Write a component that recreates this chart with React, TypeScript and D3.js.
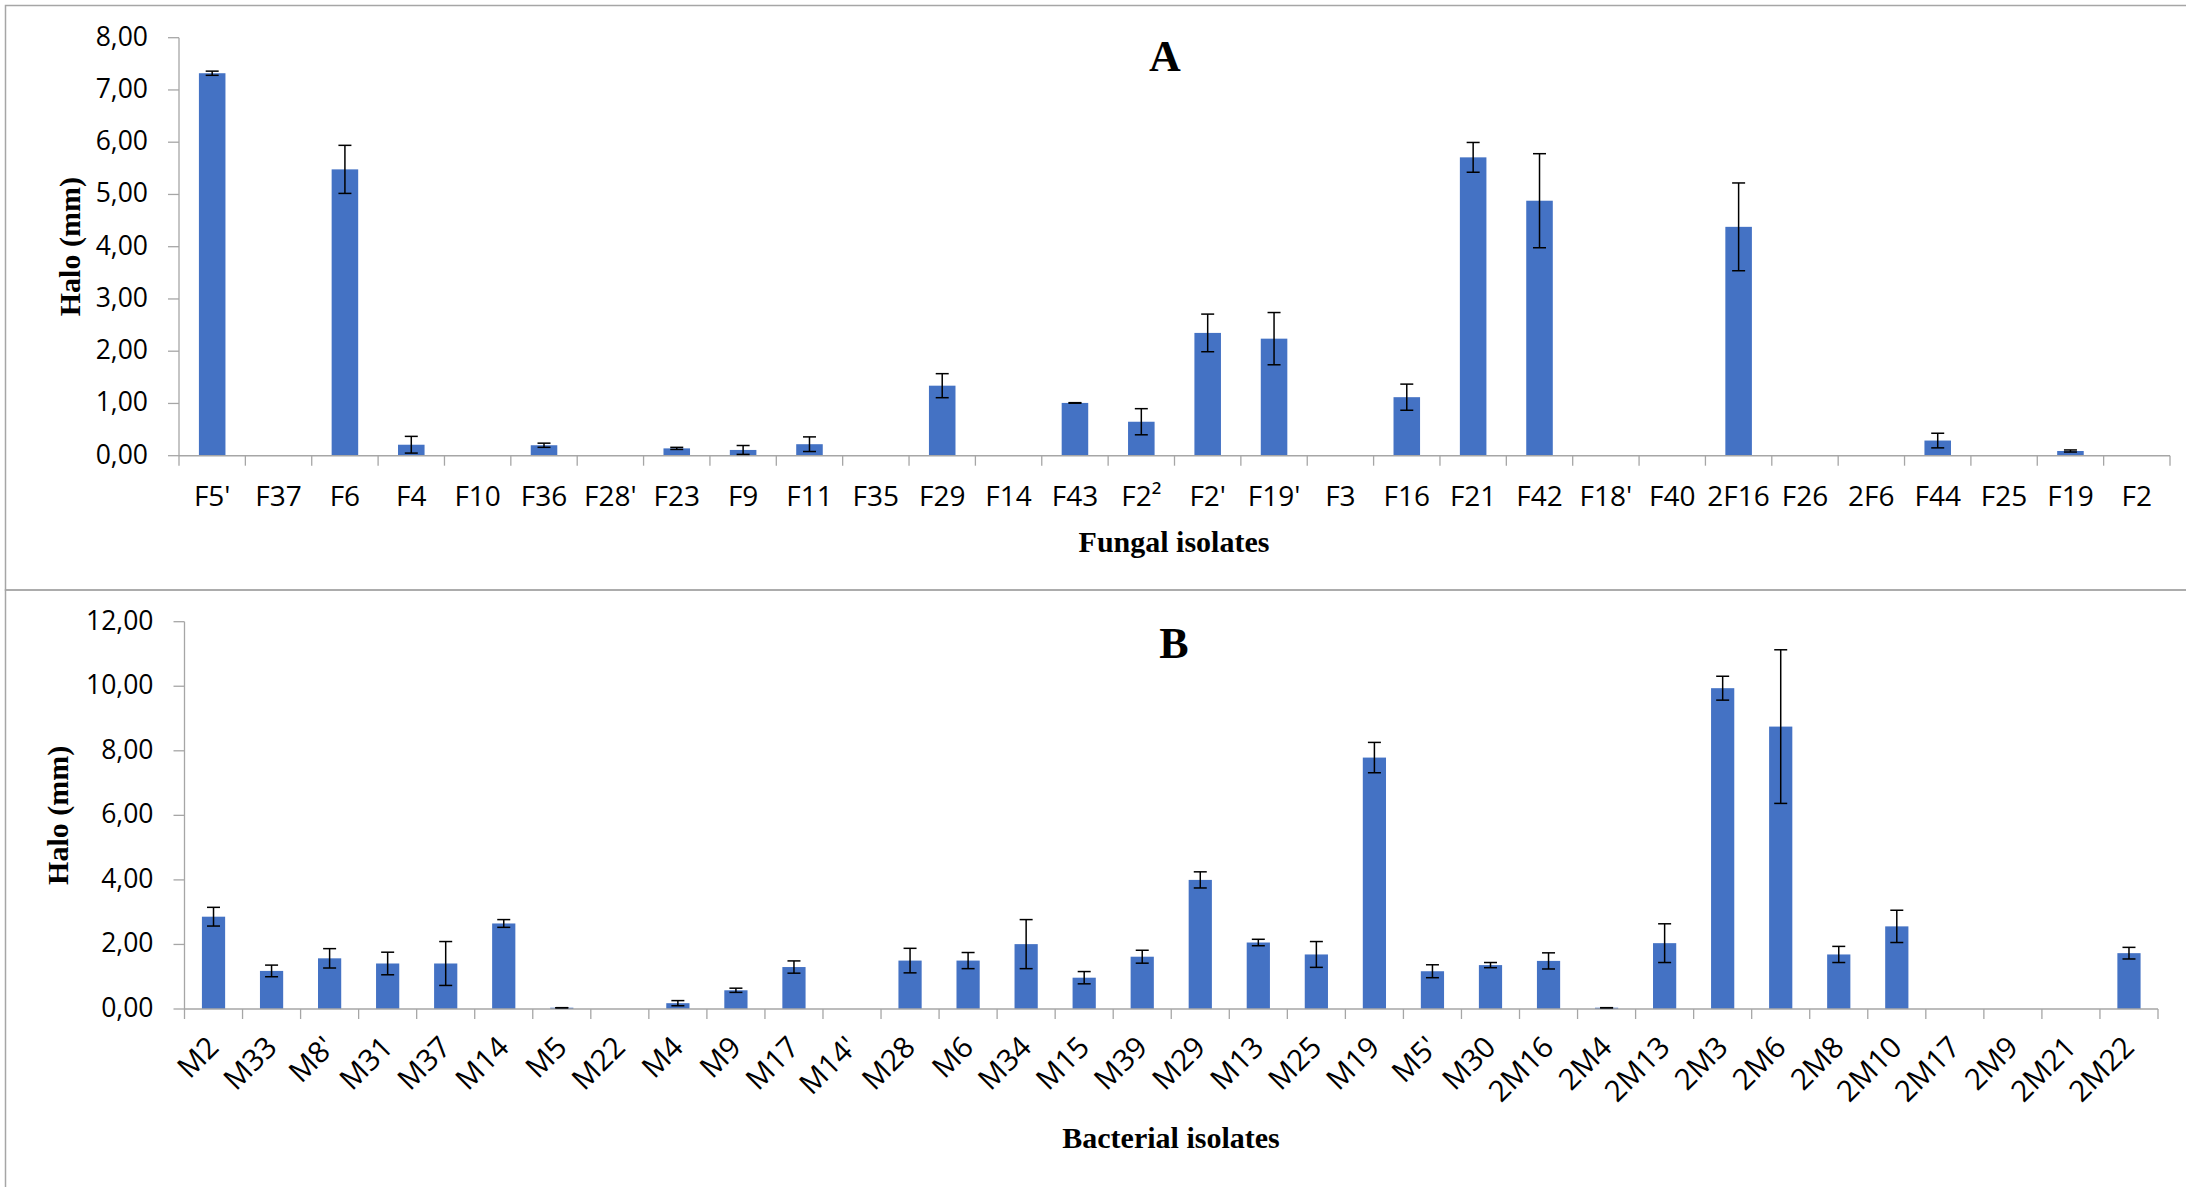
import React from 'react';
import * as d3 from 'd3';

// Panel A - fungal isolates
const fungalIsolates = ["F5'", 'F37', 'F6', 'F4', 'F10', 'F36', "F28'", 'F23', 'F9', 'F11', 'F35', 'F29', 'F14', 'F43', 'F2²', "F2'", "F19'", 'F3', 'F16', 'F21', 'F42', "F18'", 'F40', '2F16', 'F26', '2F6', 'F44', 'F25', 'F19', 'F2'];
const fungalHalo = [7.32, 0, 5.48, 0.21, 0, 0.2, 0, 0.14, 0.11, 0.22, 0, 1.34, 0, 1.01, 0.65, 2.35, 2.24, 0, 1.12, 5.71, 4.88, 0, 0, 4.38, 0, 0, 0.29, 0, 0.09, 0];
const fungalErr = [0.04, 0, 0.46, 0.16, 0, 0.04, 0, 0.02, 0.085, 0.14, 0, 0.23, 0, 0.005, 0.25, 0.36, 0.5, 0, 0.25, 0.285, 0.9, 0, 0, 0.84, 0, 0, 0.14, 0, 0.02, 0];
const fungalTicks = [0, 1, 2, 3, 4, 5, 6, 7, 8];

// Panel B - bacterial isolates
const bacterialIsolates = ['M2', 'M33', "M8'", 'M31', 'M37', 'M14', 'M5', 'M22', 'M4', 'M9', 'M17', "M14'", 'M28', 'M6', 'M34', 'M15', 'M39', 'M29', 'M13', 'M25', 'M19', "M5'", 'M30', '2M16', '2M4', '2M13', '2M3', '2M6', '2M8', '2M10', '2M17', '2M9', '2M21', '2M22'];
const bacterialHalo = [2.86, 1.18, 1.57, 1.41, 1.41, 2.65, 0.04, 0, 0.18, 0.58, 1.3, 0, 1.5, 1.5, 2.01, 0.97, 1.62, 4.0, 2.06, 1.69, 7.79, 1.17, 1.36, 1.49, 0.04, 2.04, 9.94, 8.75, 1.69, 2.56, 0, 0, 0, 1.73];
const bacterialErr = [0.29, 0.18, 0.3, 0.35, 0.68, 0.12, 0, 0, 0.08, 0.065, 0.19, 0, 0.38, 0.25, 0.76, 0.19, 0.2, 0.25, 0.1, 0.4, 0.47, 0.2, 0.08, 0.25, 0, 0.6, 0.37, 2.38, 0.25, 0.5, 0, 0, 0, 0.18];
const bacterialTicks = [0, 2, 4, 6, 8, 10, 12];

const W = 2186;
const H = 1187;
const BAR = '#4472C4';
const AXIS = '#a6a6a6';
const SANS = "'Open Sans', 'Noto Sans', sans-serif";
const SERIF = "'Liberation Serif', 'DejaVu Serif', serif";

const fmt = (v: number) => d3.format('.2f')(v).replace('.', ',');

type PanelProps = {
  names: string[];
  values: number[];
  errors: number[];
  ticks: number[];
  x0: number;
  x1: number;
  yTop: number;
  yBase: number;
  letter: string;
  letterX: number;
  letterY: number;
  xTitle: string;
  xTitleX: number;
  xTitleY: number;
  yTitleX: number;
  rotate: boolean;
};

const Panel = (p: PanelProps) => {
  const x = d3.scaleBand<string>()
    .domain(p.names)
    .range([p.x0, p.x1])
    .paddingInner(0.6)
    .paddingOuter(0.3);
  const y = d3.scaleLinear()
    .domain([0, d3.max(p.ticks) as number])
    .range([p.yBase, p.yTop]);
  const step = x.step();
  const bw = x.bandwidth();
  const yMid = (p.yBase + p.yTop) / 2;

  return (
    <g>
      {/* y axis */}
      <line x1={p.x0} x2={p.x0} y1={p.yTop} y2={p.yBase} stroke={AXIS} strokeWidth={1.3} />
      {p.ticks.map(t => (
        <g key={'yt' + t}>
          <line x1={p.x0 - 11} x2={p.x0} y1={y(t)} y2={y(t)} stroke={AXIS} strokeWidth={1.3} />
          <text x={p.x0 - 31} y={y(t) + 8} textAnchor="end" fontFamily={SANS} fontSize={26.5} fill="#000">{fmt(t)}</text>
        </g>
      ))}

      {/* bars */}
      {p.names.map((n, i) => p.values[i] > 0 && (
        <rect key={'b' + n} x={x(n)} y={y(p.values[i])} width={bw} height={p.yBase - y(p.values[i])} fill={BAR} />
      ))}

      {/* x axis */}
      <line x1={p.x0} x2={p.x1} y1={p.yBase} y2={p.yBase} stroke={AXIS} strokeWidth={1.5} />
      {d3.range(p.names.length + 1).map(i => (
        <line key={'xt' + i} x1={p.x0 + i * step} x2={p.x0 + i * step} y1={p.yBase} y2={p.yBase + 10} stroke={AXIS} strokeWidth={1.3} />
      ))}

      {/* error bars */}
      {p.names.map((n, i) => {
        if (p.values[i] <= 0) return null;
        const cx = (x(n) as number) + bw / 2;
        const hi = y(p.values[i] + p.errors[i]);
        const lo = y(Math.max(0, p.values[i] - p.errors[i]));
        return (
          <g key={'e' + n} stroke="#000" strokeWidth={1.5}>
            <line x1={cx} x2={cx} y1={hi} y2={lo} />
            <line x1={cx - 6.5} x2={cx + 6.5} y1={hi} y2={hi} />
            <line x1={cx - 6.5} x2={cx + 6.5} y1={lo} y2={lo} />
          </g>
        );
      })}

      {/* category labels */}
      {p.names.map(n => {
        const cx = (x(n) as number) + bw / 2;
        return p.rotate ? (
          <text key={'l' + n} transform={`translate(${cx + 7},${p.yBase + 40}) rotate(-45)`} textAnchor="end"
            fontFamily={SANS} fontSize={29.5} fill="#000">{n}</text>
        ) : (
          <text key={'l' + n} x={cx} y={p.yBase + 50} textAnchor="middle" fontFamily={SANS} fontSize={28} fill="#000">{n}</text>
        );
      })}

      {/* titles */}
      <text x={p.letterX} y={p.letterY} textAnchor="middle" fontFamily={SERIF} fontWeight="bold" fontSize={44}>{p.letter}</text>
      <text x={p.xTitleX} y={p.xTitleY} textAnchor="middle" fontFamily={SERIF} fontWeight="bold" fontSize={30}>{p.xTitle}</text>
      <text transform={`translate(${p.yTitleX},${yMid}) rotate(-90)`} textAnchor="middle" fontFamily={SERIF} fontWeight="bold" fontSize={30}>Halo (mm)</text>
    </g>
  );
};

const App = () => (
  <svg width={W} height={H} style={{ position: 'absolute', left: 0, top: 0, background: '#fff' }}>
    <rect x={5.5} y={5.5} width={W + 20} height={584.5} fill="none" stroke={AXIS} strokeWidth={1.5} />
    <rect x={5.5} y={590} width={W + 20} height={H + 20} fill="none" stroke={AXIS} strokeWidth={1.5} />
    <Panel names={fungalIsolates} values={fungalHalo} errors={fungalErr} ticks={fungalTicks}
      x0={179} x1={2170} yTop={37.7} yBase={455.7}
      letter="A" letterX={1165} letterY={71}
      xTitle="Fungal isolates" xTitleX={1174} xTitleY={552} yTitleX={80} rotate={false} />
    <Panel names={bacterialIsolates} values={bacterialHalo} errors={bacterialErr} ticks={bacterialTicks}
      x0={184.5} x1={2158} yTop={621.7} yBase={1009}
      letter="B" letterX={1174} letterY={658}
      xTitle="Bacterial isolates" xTitleX={1171} xTitleY={1148} yTitleX={68} rotate={true} />
  </svg>
);

export default App;
